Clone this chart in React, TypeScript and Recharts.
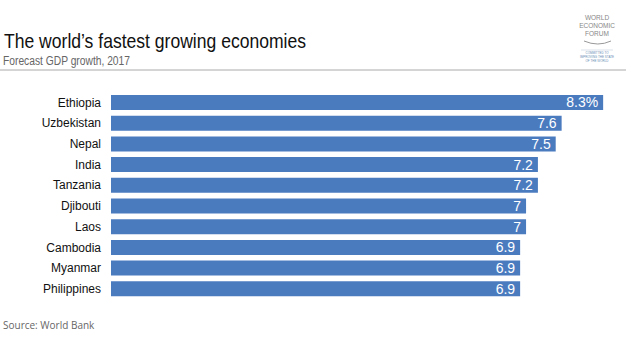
import { BarChart, Bar, XAxis, YAxis, LabelList } from "recharts";

const countries = [
	"Ethiopia",
	"Uzbekistan",
	"Nepal",
	"India",
	"Tanzania",
	"Djibouti",
	"Laos",
	"Cambodia",
	"Myanmar",
	"Philippines",
];
const growth = [8.3, 7.6, 7.5, 7.2, 7.2, 7, 7, 6.9, 6.9, 6.9];
const valueLabels = ["8.3%", "7.6", "7.5", "7.2", "7.2", "7", "7", "6.9", "6.9", "6.9"];

const data = countries.map((name, i) => ({
	name,
	growth: growth[i],
	label: valueLabels[i],
}));

const font = "'Liberation Sans', Arial, sans-serif";

export default function App() {
	return (
		<div style={{ position: "fixed", left: 0, top: 0, width: 640, height: 337, background: "#fff" }}>
			<BarChart
				width={640}
				height={337}
				data={data}
				layout="vertical"
				margin={{ top: 92, right: 25, bottom: 38, left: 0 }}
			>
				<XAxis type="number" domain={[0, 8.5]} hide />
				<YAxis
					type="category"
					dataKey="name"
					width={111}
					axisLine={false}
					tickLine={false}
					tickSize={0}
					tickMargin={10}
					tick={{ fill: "#111", fontSize: 12, fontFamily: font }}
				/>
				<Bar dataKey="growth" fill="#4b7bbf" barSize={15} isAnimationActive={false}>
					<LabelList
						dataKey="label"
						position="insideRight"
						offset={5}
						fill="#ffffff"
						fontSize={14}
						fontFamily={font}
					/>
				</Bar>
			</BarChart>
			<svg
				width={640}
				height={337}
				style={{ position: "absolute", left: 0, top: 0, pointerEvents: "none" }}
			>
				<text x={4} y={48} fontSize={21} fontFamily={font} fill="#111" textLength={302} lengthAdjust="spacingAndGlyphs">
					The world’s fastest growing economies
				</text>
				<text x={3} y={65} fontSize={12.5} fontFamily={font} fill="#666" textLength={127} lengthAdjust="spacingAndGlyphs">
					Forecast GDP growth, 2017
				</text>
				<line x1={0} y1={70} x2={626} y2={70} stroke="#aaa" strokeWidth={1} />
				<g fontFamily={font} fill="#888" fontSize={6.5} textAnchor="middle">
					<text x={597} y={20}>WORLD</text>
					<text x={597} y={28}>ECONOMIC</text>
					<text x={597} y={36}>FORUM</text>
				</g>
				<path d="M584 41 Q598 47 611 41" stroke="#999" strokeWidth={1} fill="none" />
				<line x1={581} y1={50} x2={613} y2={50} stroke="#c5cfdb" strokeWidth={0.6} />
				<g fontFamily={font} fill="#6a8fb5" fontSize={3} textAnchor="middle">
					<text x={597} y={54}>COMMITTED TO</text>
					<text x={597} y={58}>IMPROVING THE STATE</text>
					<text x={597} y={62}>OF THE WORLD</text>
				</g>
				<text x={3} y={329} fontSize={10} fontFamily="'Open Sans', sans-serif" fill="#666">
					Source: World Bank
				</text>
			</svg>
		</div>
	);
}
